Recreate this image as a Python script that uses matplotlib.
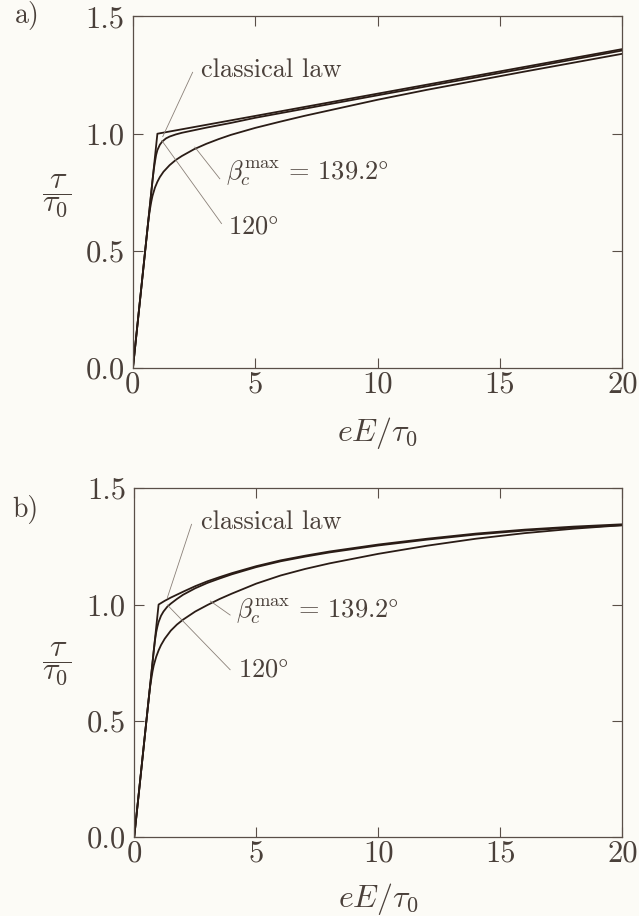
import matplotlib
matplotlib.use("Agg")
import matplotlib.pyplot as plt

plt.rcParams['font.family'] = 'serif'
plt.rcParams['font.serif'] = ['cmr10']
plt.rcParams['mathtext.fontset'] = 'cm'
plt.rcParams['axes.unicode_minus'] = False

# panel a) - linear hardening after the knee
xa_classic = [0, 1, 20]
ya_classic = [0, 1.0, 1.361]
xa_120 = [0, 0.8, 0.85, 0.9, 0.95, 1.0, 1.1, 1.2, 1.35, 1.5, 1.75, 2.0, 2.5, 3.0, 4.0, 5.0, 10.0, 15.0, 20.0]
ya_120 = [0, 0.8, 0.845, 0.88, 0.91, 0.93, 0.953, 0.967, 0.98, 0.988, 0.997, 1.004, 1.015, 1.026, 1.046, 1.068, 1.164, 1.259, 1.355]
xa_139 = [0, 0.6, 0.65, 0.7, 0.75, 0.8, 0.9, 1.0, 1.1, 1.25, 1.5, 1.75, 2.0, 2.5, 3.0, 3.5, 4.0, 5.0, 6.0, 7.0, 8.0,
          10.0, 12.0, 14.0, 16.0, 18.0, 20.0]
ya_139 = [0, 0.6, 0.645, 0.68, 0.71, 0.735, 0.77, 0.795, 0.815, 0.838, 0.866, 0.888, 0.905, 0.934, 0.957, 0.977, 0.995,
          1.025, 1.051, 1.076, 1.099, 1.145, 1.187, 1.226, 1.265, 1.303, 1.341]

# panel b) - saturating hardening after the knee
xb_classic = [0, 1.0, 1.25, 1.5, 2.0, 2.5, 3.0, 3.5, 4.0, 5.0, 6.0, 7.0, 8.0, 10.0, 12.0, 14.0, 16.0, 18.0, 20.0]
yb_classic = [0, 1.0, 1.016, 1.03, 1.055, 1.079, 1.10, 1.118, 1.135, 1.165, 1.19, 1.21, 1.228, 1.258, 1.283, 1.305,
              1.322, 1.335, 1.345]
xb_120 = [0, 0.8, 0.85, 0.9, 0.95, 1.0, 1.1, 1.2, 1.35, 1.5, 1.75, 2.0, 2.5, 3.0, 3.5, 4.0, 5.0, 6.0, 7.0, 8.0,
          10.0, 12.0, 14.0, 16.0, 18.0, 20.0]
yb_120 = [0, 0.8, 0.845, 0.88, 0.905, 0.925, 0.952, 0.97, 0.99, 1.004, 1.024, 1.042, 1.07, 1.093, 1.112, 1.13, 1.161,
          1.186, 1.206, 1.224, 1.254, 1.279, 1.301, 1.318, 1.331, 1.341]
xb_139 = [0, 0.6, 0.65, 0.7, 0.75, 0.8, 0.9, 1.0, 1.1, 1.25, 1.5, 1.75, 2.0, 2.5, 3.0, 3.5, 4.0, 5.0, 6.0, 7.0, 8.0,
          10.0, 12.0, 14.0, 16.0, 18.0, 20.0]
yb_139 = [0, 0.6, 0.645, 0.68, 0.712, 0.738, 0.775, 0.803, 0.826, 0.853, 0.888, 0.914, 0.935, 0.970, 0.998, 1.024,
          1.047, 1.09, 1.125, 1.153, 1.177, 1.218, 1.253, 1.283, 1.307, 1.326, 1.341]

xticks = [0, 5, 10, 15, 20]
yticks = [0.0, 0.5, 1.0, 1.5]

line_col = '#2a1c16'
text_col = '#4a403a'
pointer_col = '#8a8078'
bg = '#fcfbf6'

fig = plt.figure(figsize=(6.39, 9.16), dpi=100, facecolor=bg)
ax_a = fig.add_axes([0.208, 0.598, 0.766, 0.384])
ax_b = fig.add_axes([0.210, 0.086, 0.764, 0.381])

panels = [
    (ax_a, xa_classic, ya_classic, xa_120, ya_120, xa_139, ya_139, 12,
     {'classic': ((2.79, 1.273), (2.44, 1.262), (1.22, 0.988)),
      'beta': ((3.82, 0.83), (3.55, 0.808), (2.53, 0.943)),
      'deg': ((3.88, 0.602), (3.62, 0.617), (1.18, 0.971))}),
    (ax_b, xb_classic, yb_classic, xb_120, yb_120, xb_139, yb_139, 10,
     {'classic': ((2.75, 1.356), (2.35, 1.345), (1.36, 1.03)),
      'beta': ((4.17, 0.97), (3.93, 0.955), (3.12, 1.015)),
      'deg': ((4.24, 0.719), (3.93, 0.72), (1.36, 0.998))}),
]

texts = {'classic': 'classical law',
         'beta': r'$\beta_c^{\mathrm{max}}\,=\,139.2\degree$',
         'deg': r'$120\degree$'}

for ax, xc, yc, x1, y1, x2, y2, lpad, pos in panels:
    ax.set_facecolor(bg)
    ax.plot(xc, yc, color=line_col, lw=1.3)
    ax.plot(x1, y1, color=line_col, lw=1.3)
    ax.plot(x2, y2, color=line_col, lw=1.3)
    for key, (tpos, p0, p1) in pos.items():
        ax.plot([p0[0], p1[0]], [p0[1], p1[1]], color=pointer_col, lw=0.6)
        ax.text(tpos[0], tpos[1], texts[key], fontsize=19, color=text_col,
                ha='left', va='center')
    ax.set_xlim(0, 20)
    ax.set_ylim(0, 1.5)
    ax.set_xticks(xticks)
    ax.set_xticklabels([str(t) for t in xticks])
    ax.set_yticks(yticks)
    ax.set_yticklabels(['%.1f' % t for t in yticks])
    ax.tick_params(direction='in', length=7, width=0.8, top=True, right=True,
                   labelsize=22, colors='#5a4f48', labelcolor=text_col)
    ax.tick_params(axis='x', pad=2)
    ax.tick_params(axis='y', pad=6)
    for s in ax.spines.values():
        s.set_color('#5a4f48')
        s.set_linewidth(0.9)
    ax.set_xlabel(r'$eE/\tau_0$', fontsize=23, color=text_col, labelpad=lpad)

fig.text(57 / 639, 1 - 196 / 916, r'$\dfrac{\tau}{\tau_0}$', fontsize=23,
         color=text_col, ha='center', va='center')
fig.text(57 / 639, 1 - 664 / 916, r'$\dfrac{\tau}{\tau_0}$', fontsize=23,
         color=text_col, ha='center', va='center')
fig.text(15 / 639, 1 - 16 / 916, 'a)', fontsize=20, color=text_col, va='center')
fig.text(12 / 639, 1 - 509 / 916, 'b)', fontsize=20, color=text_col, va='center')

fig.savefig('out.png', dpi=100, facecolor=bg)
